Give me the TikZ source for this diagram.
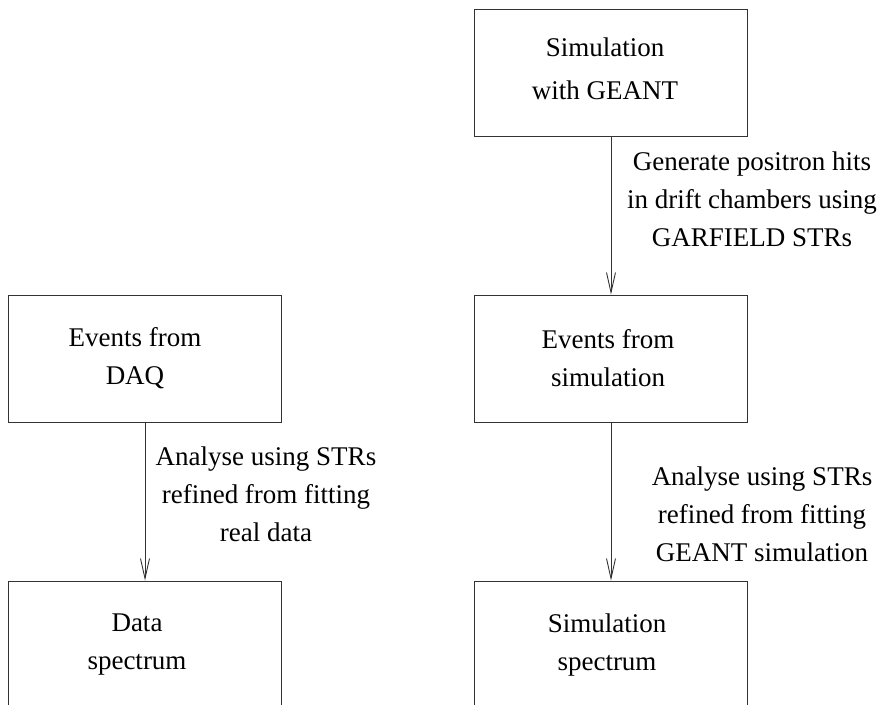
\documentclass[tikz,border=0pt]{standalone}
\usepackage{fontspec}
\setmainfont{Liberation Serif}
\usetikzlibrary{positioning,arrows.meta}

\begin{document}
\begin{tikzpicture}[x=1pt,y=-1pt,
  every node/.style={font=\fontsize{27}{38}\selectfont},
  box/.style={draw=black!80,line width=0.9pt,minimum width=273pt,minimum height=127pt,inner sep=0pt},
  boxtext/.style={align=center},
  flow/.style={draw=black!80,line width=0.9pt,-{Straight Barb[length=20pt,width=9pt]}},
  note/.style={align=center}]
\useasboundingbox (0,0) rectangle (883,704);
\clip (0,0) rectangle (883,704);
% boxes
\node[box] (geant) at (611,72.5) {};
\node[box] (daq) at (145,358.5) {};
\node[box] (simev) at (611,358.5) {};
\node[box] (dataspec) at (145,644.5) {};
\node[box] (simspec) at (611,644.5) {};
% box texts
\node[boxtext] (tgeant) at ([xshift=-6pt,yshift=4pt]geant.center) {Simulation\\[5pt]with GEANT};
\node[boxtext] (tdaq) at ([xshift=-10pt]daq.center) {Events from\\DAQ};
\node[boxtext] (tsimev) at ([xshift=-3pt]simev.center) {Events from\\simulation};
\node[boxtext] (tdataspec) at ([xshift=-8pt]dataspec.center) {Data\\spectrum};
\node[boxtext] (tsimspec) at ([xshift=-4pt]simspec.center) {Simulation\\spectrum};
% arrows
\draw[flow] (geant.south) -- (simev.north);
\draw[flow] (daq.south) -- (dataspec.north);
\draw[flow] (simev.south) -- (simspec.north);
% arrow labels
\node[note] (lgen) at (752,199) {Generate positron hits\\in drift chambers using\\GARFIELD STRs};
\node[note] (ldata) at (266,494) {Analyse using STRs\\refined from fitting\\real data};
\node[note] (lsim) at (762,514) {Analyse using STRs\\refined from fitting\\GEANT simulation};
\end{tikzpicture}
\end{document}
